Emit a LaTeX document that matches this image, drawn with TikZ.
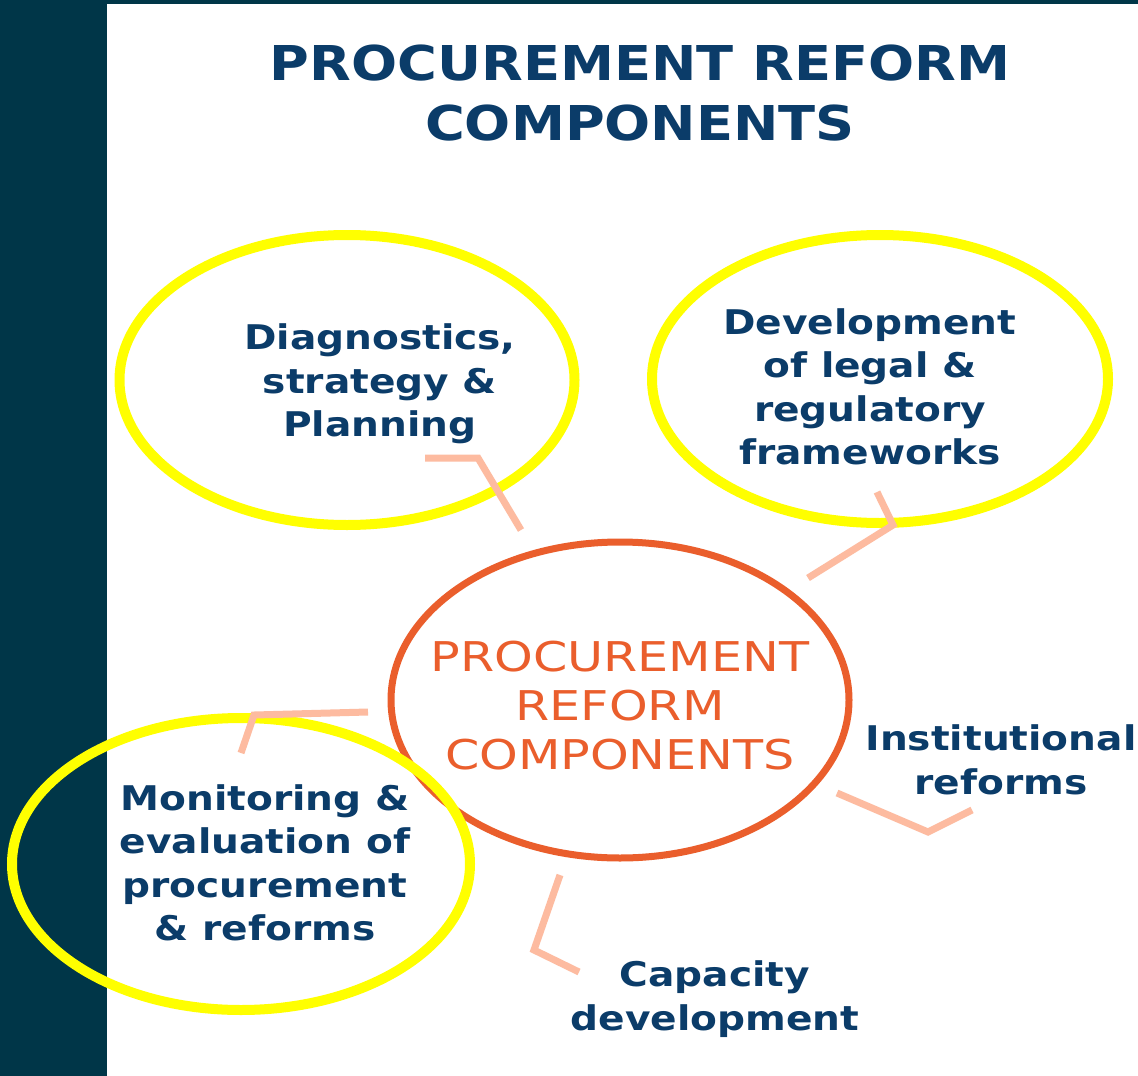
\documentclass[tikz,border=0pt]{standalone}
\usepackage{fontspec}
\setmainfont{DejaVu Sans}
\usetikzlibrary{shapes.geometric}
\definecolor{strip}{RGB}{0,54,72}
\definecolor{navy}{RGB}{11,60,105}
\definecolor{reforange}{RGB}{234,94,44}
\definecolor{spoke}{RGB}{253,187,160}
\definecolor{hilite}{RGB}{255,255,0}
\tikzset{
  label/.style={align=center, text=navy, font=\bfseries\fontsize{34}{43.5}\selectfont, inner sep=0pt, xscale=1.15},
  ring/.style={draw=hilite, line width=10pt, shape=ellipse, inner sep=0pt},
  spokeline/.style={draw=spoke, line width=7pt, line join=miter},
}
\begin{document}
\begin{tikzpicture}[x=1pt,y=-1pt]
  % canvas
  \useasboundingbox (0,0) rectangle (1138,1076);
  \fill[white] (0,0) rectangle (1138,1076);
  \fill[strip] (0,0) rectangle (107,1076);
  \fill[strip] (0,0) rectangle (1138,4);

  % title
  \node[text=navy, font=\bfseries\fontsize{48}{60}\selectfont, align=center, inner sep=0pt, xscale=1.13] (title) at (640,93) {PROCUREMENT REFORM\\COMPONENTS};

  % central hub
  \node[draw=reforange, line width=7pt, shape=ellipse, minimum width=458pt, minimum height=316pt, inner sep=0pt] (hub) at (620,700) {};
  \node[text=reforange, align=center, font=\fontsize{41}{49}\selectfont, inner sep=0pt, xscale=1.2] (hubtext) at (620,706) {PROCUREMENT\\REFORM\\COMPONENTS};

  % highlighted components
  \node[ring, minimum width=455pt, minimum height=290pt] (ringA) at (347,380) {};
  \node[ring, minimum width=456pt, minimum height=288pt] (ringB) at (880,379) {};
  \node[ring, minimum width=458pt, minimum height=292pt] (ringC) at (241,864) {};

  % component labels
  \node[label] (diag) at (380,384) {Diagnostics,\\strategy \&\\Planning};
  \node[label] (legal) at (870,387) {Development\\of legal \&\\regulatory\\frameworks};
  \node[label] (inst) at (1001,760) {Institutional\\reforms};
  \node[label] (cap) at (715,999) {Capacity\\development};
  \node[label] (mon) at (265,863) {Monitoring \&\\evaluation of\\procurement\\\& reforms};

  % spokes from the hub towards each component
  \coordinate (d1) at (425,458); \coordinate (d2) at (478,458); \coordinate (d3) at (521,530);
  \coordinate (l1) at (877,492); \coordinate (l2) at (893,525); \coordinate (l3) at (808,578);
  \coordinate (m1) at (368,712); \coordinate (m2) at (254,715); \coordinate (m3) at (241,753);
  \coordinate (c1) at (560,875); \coordinate (c2) at (534,950); \coordinate (c3) at (579,972);
  \coordinate (i1) at (837,793); \coordinate (i2) at (928,832); \coordinate (i3) at (972,810);
  \draw[spokeline] (d1) -- (d2) -- (d3);
  \draw[spokeline] (l1) -- (l2) -- (l3);
  \draw[spokeline] (m1) -- (m2) -- (m3);
  \draw[spokeline] (c1) -- (c2) -- (c3);
  \draw[spokeline] (i1) -- (i2) -- (i3);
\end{tikzpicture}
\end{document}
